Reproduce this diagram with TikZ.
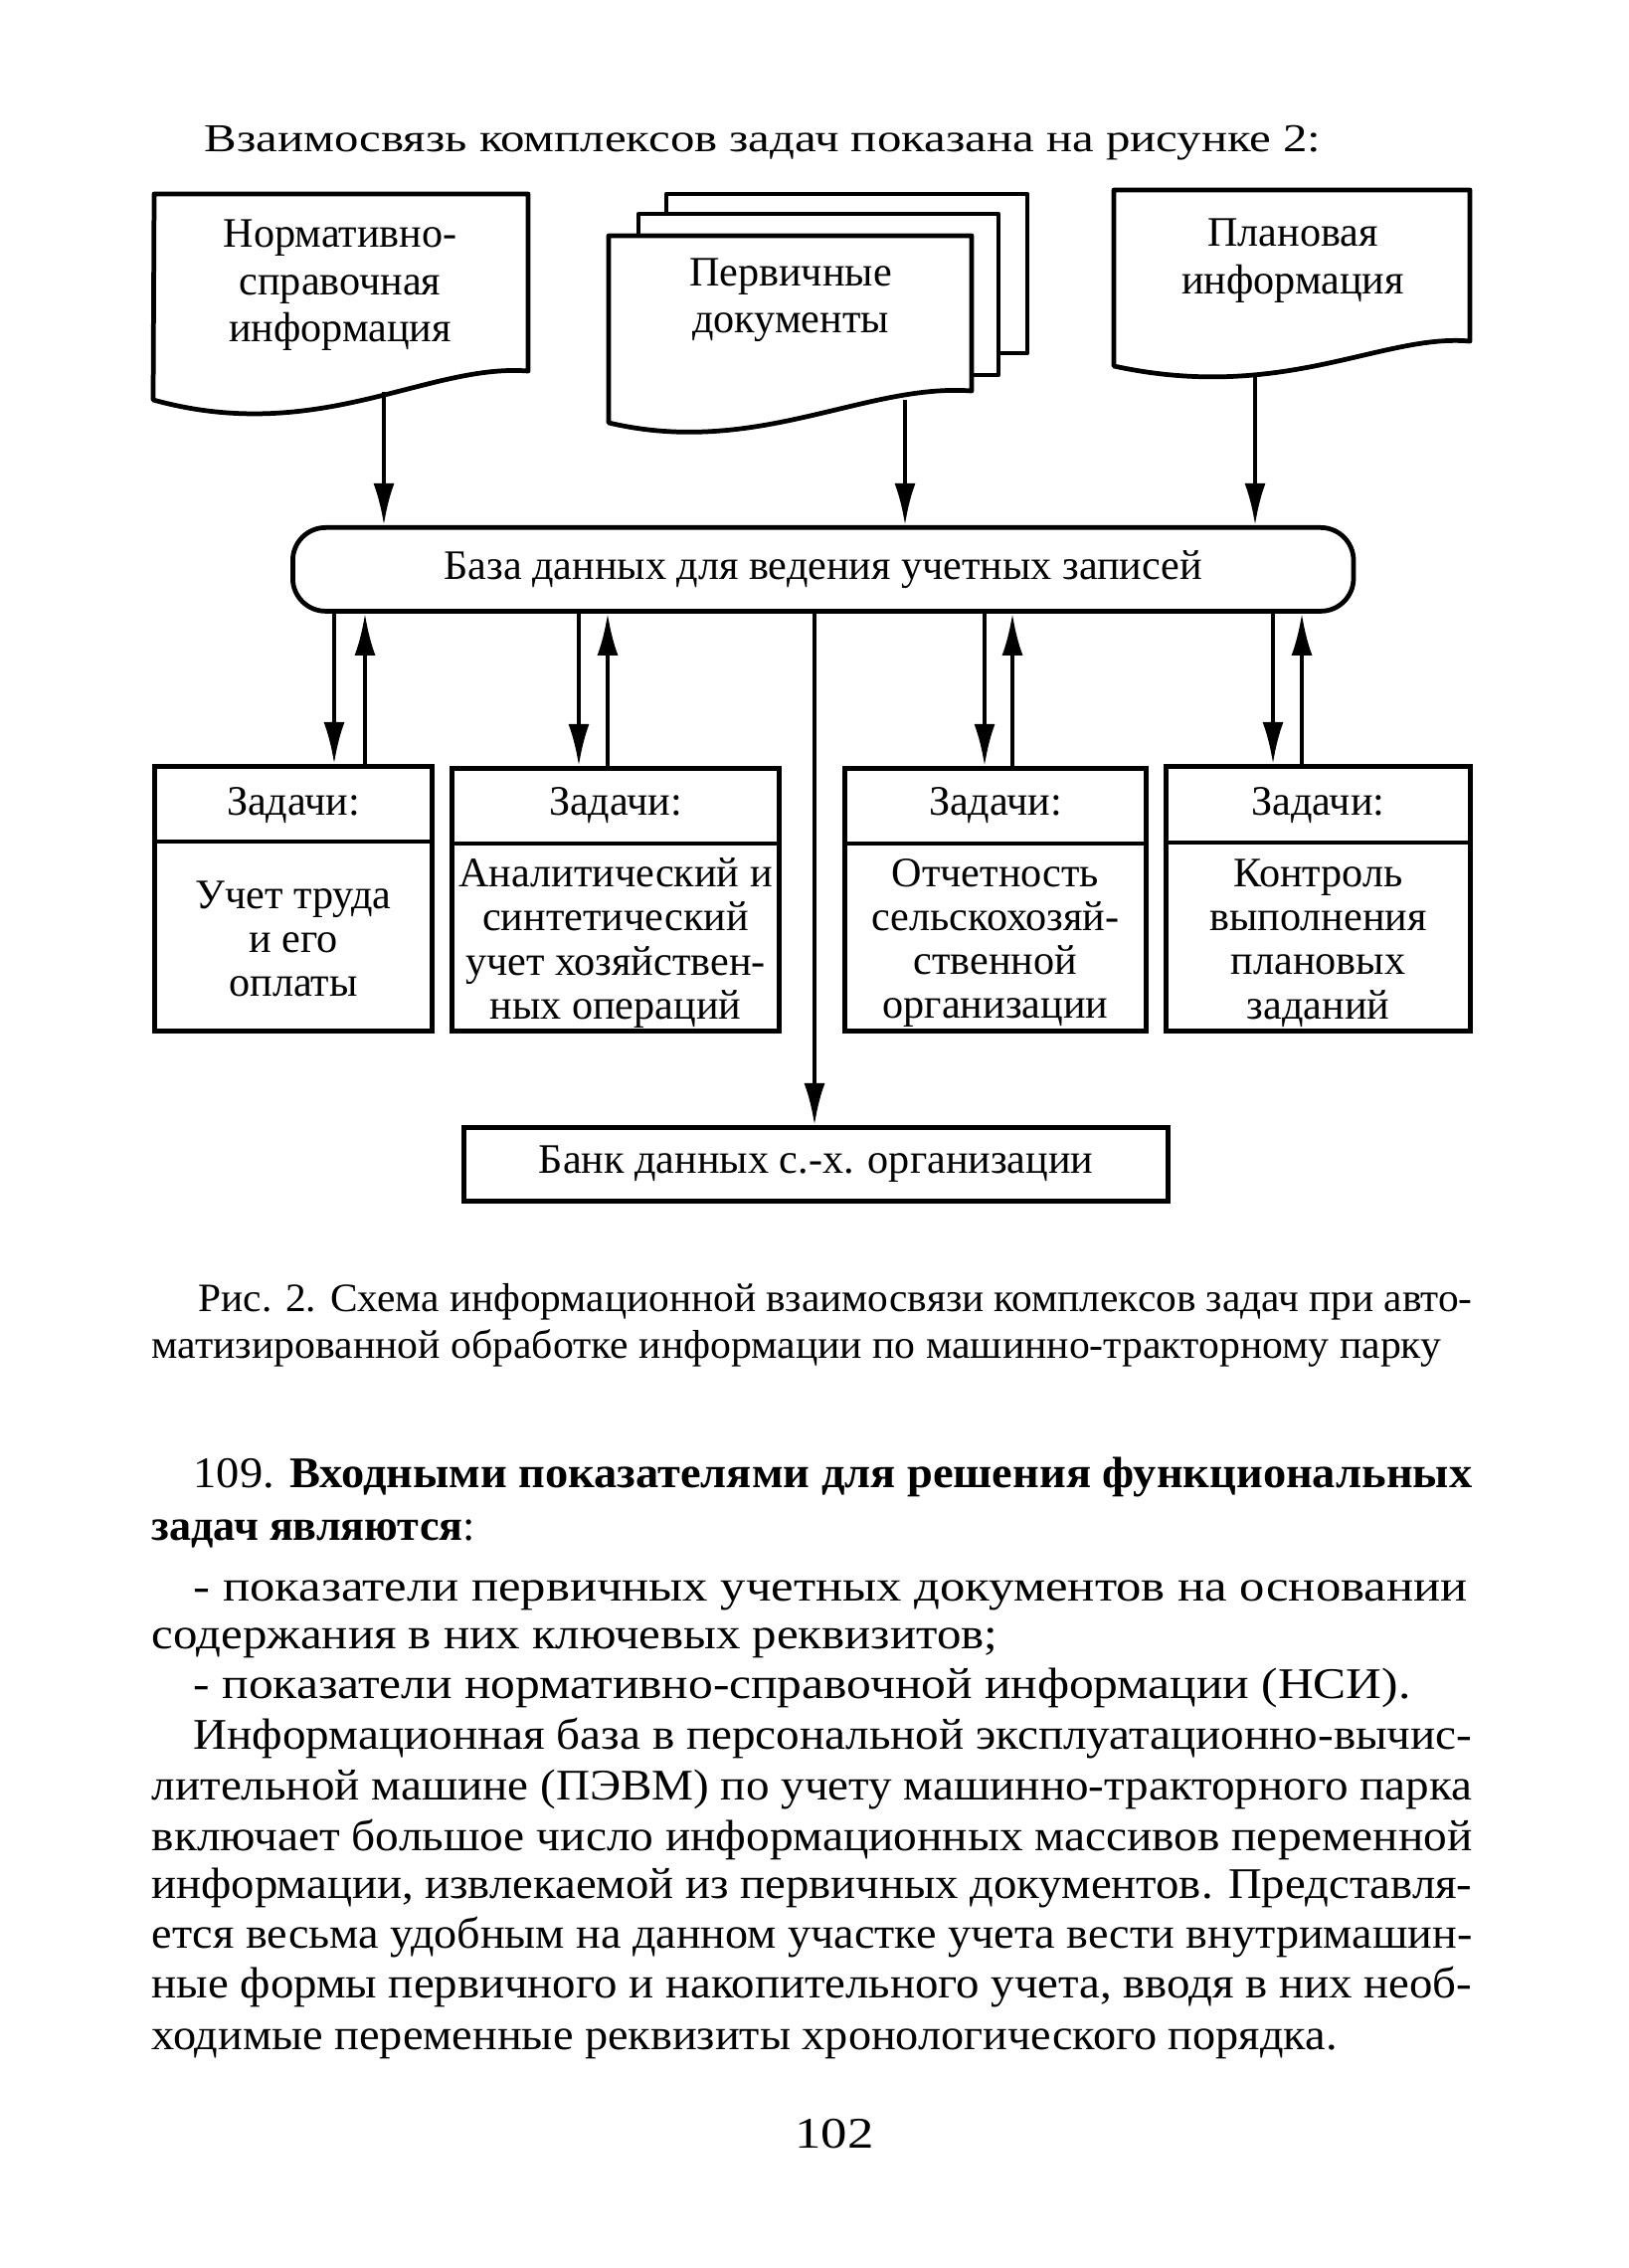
\documentclass[tikz,border=0pt]{standalone}
\usepackage{fontspec}
\usepackage{graphicx}
\setmainfont{Liberation Serif}[FakeStretch=1.2]
\newfontfamily\diagfamily{Liberation Serif}
\newfontfamily\capfamily{Liberation Serif}[FakeStretch=1.15]
\usetikzlibrary{arrows.meta}
\newsavebox\fitbox
% scale a line horizontally to an exact width
\newcommand\hfit[2]{\sbox\fitbox{#2}\resizebox{#1}{\ht\fitbox}{\usebox\fitbox}}
% justified line: stretch spaces, or squeeze if too long
\newcommand\jline[2]{\sbox\fitbox{#2}\ifdim\wd\fitbox>#1\relax\resizebox{#1}{\ht\fitbox}{\usebox\fitbox}\else\makebox[#1][s]{#2}\fi}
\newcommand\dfont{\diagfamily\fontsize{12pt}{12.6pt}\selectfont}
\newcommand\docfont{\diagfamily\fontsize{12pt}{13.5pt}\selectfont}
\newcommand\headfont{\fontsize{11.3pt}{13pt}\selectfont}
\newcommand\bodyfont{\fontsize{12.5pt}{14pt}\selectfont}
\newcommand\capfont{\capfamily\fontsize{11.5pt}{12.5pt}\selectfont}
\begin{document}
\begin{tikzpicture}[x=0.01cm,y=-0.01cm,
  ln/.style={line width=1.35pt, line join=round},
  arr/.style={line width=1.1pt, -{Latex[length=12pt,width=6pt]}},
  box/.style={draw, line width=1.35pt, rectangle, inner sep=0pt, anchor=north west},
  lbl/.style={font=\dfont, align=center, inner sep=0pt},
  doclbl/.style={font=\docfont, align=center, inner sep=0pt},
  txt/.style={font=\bodyfont, inner sep=0pt, anchor=base west},
  captxt/.style={font=\capfont, inner sep=0pt, anchor=base west}]
\useasboundingbox[fill=white] (0,0) rectangle (1637,2280);

% heading
\node[txt, font=\headfont] (head) at (205,153) {\hfit{11.22cm}{Взаимосвязь комплексов задач показана на рисунке 2:}};

% document shapes
\draw[ln, fill=white] (155,195) -- (531,195) -- (531,373) .. controls (430,365) and (320,448) .. (154,402) -- cycle;
\node[doclbl] (nsi) at (342,287) {Нормативно-\\справочная\\информация};

\draw[ln, fill=white] (670,195) rectangle (1033,355);
\draw[ln, fill=white] (642,215) rectangle (1004,377);
\draw[ln, fill=white] (612,237) -- (977,237) -- (977,393) .. controls (870,385) and (760,460) .. (612,425) -- cycle;
\node[doclbl] (pd) at (795,302) {Первичные\\документы};

\draw[ln, fill=white] (1120,191) -- (1478,191) -- (1478,343) .. controls (1390,335) and (1290,405) .. (1120,368) -- cycle;
\node[doclbl] (pi) at (1300,262) {Плановая\\информация};

% data base
\node[draw, line width=1.35pt, rounded corners=0.33cm, inner sep=0pt, anchor=north west,
      minimum width=10.66cm, minimum height=0.84cm, font=\dfont] (db) at (292,528)
      {База данных для ведения учетных записей};

\coordinate (a1) at (386,394);
\coordinate (a2) at (910,402);
\coordinate (a3) at (1262,376);
\draw[arr] (a1) -- (a1 |- db.north);
\draw[arr] (a2) -- (a2 |- db.north);
\draw[arr] (a3) -- (a3 |- db.north);

% task boxes
\node[box, minimum width=2.79cm, minimum height=2.66cm] (t1) at (153,768) {};
\node[box, minimum width=3.29cm, minimum height=2.64cm] (t2) at (452,770) {};
\node[box, minimum width=3.03cm, minimum height=2.64cm] (t3) at (847,770) {};
\node[box, minimum width=3.06cm, minimum height=2.66cm] (t4) at (1170,768) {};
\draw[ln] (t1.west |- 0,846) -- (t1.east |- 0,846);
\draw[ln] (t2.west |- 0,848) -- (t2.east |- 0,848);
\draw[ln] (t3.west |- 0,848) -- (t3.east |- 0,848);
\draw[ln] (t4.west |- 0,847) -- (t4.east |- 0,847);

\node[lbl] (t1h) at (t1.north |- 0,810) {Задачи:};
\node[lbl] (t2h) at (t2.north |- 0,810) {Задачи:};
\node[lbl] (t3h) at (t3.north |- 0,810) {Задачи:};
\node[lbl] (t4h) at (t4.north |- 0,810) {Задачи:};

\node[lbl] (t1b) at (t1.north |- 0,944) {Учет труда\\и его\\оплаты};
\node[lbl] (t2b) at (t2.north |- 0,948) {Аналитический и\\синтетический\\учет хозяйствен-\\ных операций};
\node[lbl] (t3b) at (t3.north |- 0,948) {Отчетность\\сельскохозяй-\\ственной\\организации};
\node[lbl] (t4b) at (t4.north |- 0,948) {Контроль\\выполнения\\плановых\\заданий};

\coordinate (d1) at (336,0);  \coordinate (u1) at (367,0);
\coordinate (d2) at (582,0);  \coordinate (u2) at (611,0);
\coordinate (d3) at (990,0);  \coordinate (u3) at (1018,0);
\coordinate (d4) at (1280,0); \coordinate (u4) at (1309,0);
\draw[arr] (d1 |- db.south) -- (d1 |- t1.north);
\draw[arr] (u1 |- t1.north) -- (u1 |- db.south);
\draw[arr] (d2 |- db.south) -- (d2 |- t2.north);
\draw[arr] (u2 |- t2.north) -- (u2 |- db.south);
\draw[arr] (d3 |- db.south) -- (d3 |- t3.north);
\draw[arr] (u3 |- t3.north) -- (u3 |- db.south);
\draw[arr] (d4 |- db.south) -- (d4 |- t4.north);
\draw[arr] (u4 |- t4.north) -- (u4 |- db.south);

% data bank
\node[box, minimum width=7.08cm, minimum height=0.74cm, font=\dfont] (bank) at (464,1131) {Банк данных с.-х. организации};
\coordinate (cx) at (819,0);
\draw[arr] (cx |- db.south) -- (cx |- bank.north);

% caption
\node[captxt] (cap1) at (199,1318) {\jline{12.80cm}{Рис. 2. Схема информационной взаимосвязи комплексов задач при авто-}};
\node[captxt] (cap2) at (152,1365) {\hfit{12.96cm}{матизированной обработке информации по машинно-тракторному парку}};

% body text
\node[txt] (l1) at (194,1495) {\jline{12.85cm}{109. \textbf{Входными показателями для решения функциональных}}};
\node[txt] (l2) at (152,1548) {\hfit{3.25cm}{\textbf{задач являются}:}};
\node[txt] (l3) at (194,1609) {\jline{12.80cm}{- показатели первичных учетных документов на основании}};
\node[txt] (l4) at (152,1657) {\hfit{8.50cm}{содержания в них ключевых реквизитов;}};
\node[txt] (l5) at (194,1707) {\hfit{12.23cm}{- показатели нормативно-справочной информации (НСИ).}};
\node[txt] (l6) at (194,1758) {\jline{12.85cm}{Информационная база в персональной эксплуатационно-вычис-}};
\node[txt] (l7) at (152,1809) {\jline{13.27cm}{лительной машине (ПЭВМ) по учету машинно-тракторного парка}};
\node[txt] (l8) at (152,1860) {\jline{13.27cm}{включает большое число информационных массивов переменной}};
\node[txt] (l9) at (152,1908) {\jline{13.27cm}{информации, извлекаемой из первичных документов. Представля-}};
\node[txt] (l10) at (152,1958) {\jline{13.27cm}{ется весьма удобным на данном участке учета вести внутримашин-}};
\node[txt] (l11) at (152,2008) {\jline{13.27cm}{ные формы первичного и накопительного учета, вводя в них необ-}};
\node[txt] (l12) at (152,2060) {\hfit{11.91cm}{ходимые переменные реквизиты хронологического порядка.}};
\node[font=\bodyfont, inner sep=0pt, anchor=base] (page) at (839,2159) {102};
\end{tikzpicture}
\end{document}
